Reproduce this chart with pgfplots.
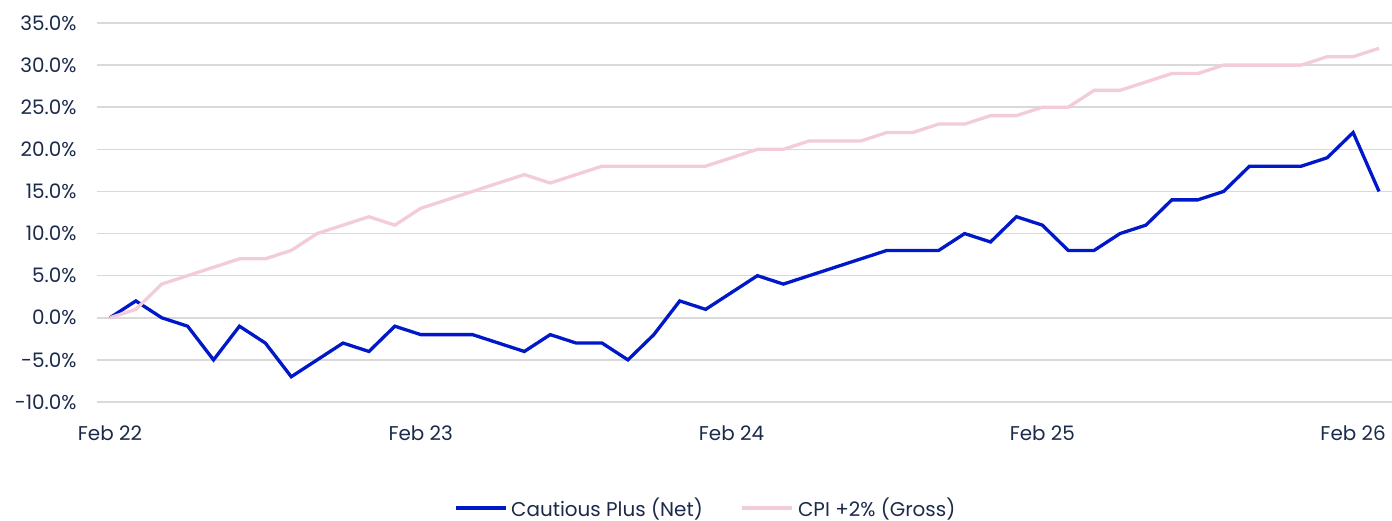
\documentclass[border=0pt]{standalone}
\usepackage{pgfplots}
\pgfplotsset{compat=1.18}
\usepackage{fontspec}
\setmainfont{Poppins}
\definecolor{navy}{HTML}{1B2A4A}
\definecolor{cblue}{HTML}{0018C8}
\definecolor{cpink}{HTML}{F2CDD9}
\definecolor{gridgray}{HTML}{D9D9D9}
\begin{document}
\begin{tikzpicture}
\begin{axis}[
 at={(0bp,0bp)}, anchor=south west,
 scale only axis, width=1295bp, height=379bp,
 xmin=-0.5, xmax=49.5, ymin=-10, ymax=35,
 axis line style={draw=none},
 major tick length=0pt,
 ymajorgrids, grid style={gridgray, line width=1.5bp},
 ytick={-10,-5,...,35},
 yticklabels={-10.0\%,-5.0\%,0.0\%,5.0\%,10.0\%,15.0\%,20.0\%,25.0\%,30.0\%,35.0\%},
 xtick={0,12,24,36,48},
 xticklabels={Feb 22,Feb 23,Feb 24,Feb 25,Feb 26},
 ticklabel style={font=\fontsize{20}{24}\selectfont, text=navy},
 yticklabel style={xshift=-17bp},
 xticklabel style={yshift=-20bp},
 legend style={at={(0.47,-0.28)}, anchor=center, draw=none, fill=none,
   font=\fontsize{20}{24}\selectfont, text=navy,
   /tikz/every odd column/.append style={column sep=2bp},
   /tikz/every even column/.append style={column sep=36bp}},
 legend columns=2,
 legend image code/.code={\draw[#1] (0bp,0bp) -- (50bp,0bp);},
]
\addplot[cblue, line width=3.3bp, line join=miter] table {
x y
0 0
1 2
2 0
3 -1
4 -5
5 -1
6 -3
7 -7
8 -5
9 -3
10 -4
11 -1
12 -2
13 -2
14 -2
15 -3
16 -4
17 -2
18 -3
19 -3
20 -5
21 -2
22 2
23 1
24 3
25 5
26 4
27 5
28 6
29 7
30 8
31 8
32 8
33 10
34 9
35 12
36 11
37 8
38 8
39 10
40 11
41 14
42 14
43 15
44 18
45 18
46 18
47 19
48 22
49 15
};
\addlegendentry{Cautious Plus (Net)}
\addplot[cpink, line width=3.3bp] table {
x y
0 0
1 1
2 4
3 5
4 6
5 7
6 7
7 8
8 10
9 11
10 12
11 11
12 13
13 14
14 15
15 16
16 17
17 16
18 17
19 18
20 18
21 18
22 18
23 18
24 19
25 20
26 20
27 21
28 21
29 21
30 22
31 22
32 23
33 23
34 24
35 24
36 25
37 25
38 27
39 27
40 28
41 29
42 29
43 30
44 30
45 30
46 30
47 31
48 31
49 32
};
\addlegendentry{CPI +2\% (Gross)}
\end{axis}
\pgfresetboundingbox
\path[use as bounding box] (-97bp,-119bp) rectangle (1295bp,402bp);
\end{tikzpicture}
\end{document}
